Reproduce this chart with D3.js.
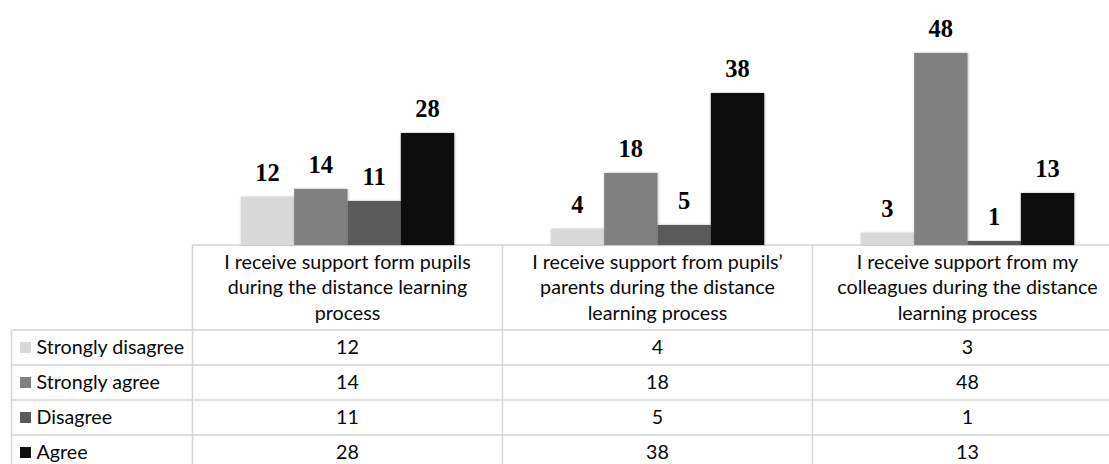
<!DOCTYPE html>
<html>
<head>
<meta charset="utf-8">
<script src="https://cdn.jsdelivr.net/npm/d3@7"></script>
<style>
  html, body { margin: 0; padding: 0; background: #fff; }
  svg { display: block; }
</style>
</head>
<body>
<svg id="chart" width="1109" height="464"></svg>
<script>
// ---- Data ----
const categories = [
  "I receive support form pupils during the distance learning process",
  "I receive support from pupils’ parents during the distance learning process",
  "I receive support from my colleagues during the distance learning process"
];
const categoryLines = [
  ["I receive support form pupils", "during the distance learning", "process"],
  ["I receive support from pupils’", "parents during the distance", "learning process"],
  ["I receive support from my", "colleagues during the distance", "learning process"]
];
const seriesNames = ["Strongly disagree", "Strongly agree", "Disagree", "Agree"];
const stronglyDisagree = [12, 4, 3];
const stronglyAgree = [14, 18, 48];
const disagree = [11, 5, 1];
const agree = [28, 38, 13];
const seriesColors = ["#d9d9d9", "#808080", "#5a5a5a", "#0f0f0f"];

const seriesValues = [stronglyDisagree, stronglyAgree, disagree, agree];

// ---- Layout ----
const W = 1109, H = 464;
const tableLeft = 11.5, catLeft = 192.5, catRight = 1122.5;
const baseY = 245, headerBottom = 330, rowH = 35;
const lineColor = "#d6d6d6";
const tableFont = "Lato, 'Open Sans', sans-serif";
const tableFontSize = 19.7;

const svg = d3.select("#chart");

const defs = svg.append("defs");
const f = defs.append("filter").attr("id", "shadow")
  .attr("x", "-20%").attr("y", "-20%").attr("width", "140%").attr("height", "140%");
f.append("feDropShadow").attr("dx", 0.5).attr("dy", 0).attr("stdDeviation", 1.3)
  .attr("flood-color", "#000").attr("flood-opacity", 0.3);

const x0 = d3.scaleBand().domain(categories).range([catLeft, catRight]).padding(0);
const x1 = d3.scaleBand().domain(seriesNames).range([0, x0.bandwidth()])
  .paddingInner(0).paddingOuter(0.906);
const y = d3.scaleLinear().domain([0, 60]).range([baseY, 5]);

// ---- Table grid ----
const grid = svg.append("g").attr("stroke", lineColor).attr("stroke-width", 1.5).attr("fill", "none");
grid.append("line").attr("x1", catLeft).attr("x2", W).attr("y1", baseY).attr("y2", baseY);
seriesNames.forEach((s, i) => {
  const yy = headerBottom + i * rowH;
  grid.append("line").attr("x1", tableLeft).attr("x2", W).attr("y1", yy).attr("y2", yy);
});
grid.append("line").attr("x1", tableLeft).attr("x2", tableLeft).attr("y1", headerBottom).attr("y2", H);
categories.forEach(c => {
  const xx = x0(c);
  grid.append("line").attr("x1", xx).attr("x2", xx).attr("y1", baseY).attr("y2", H);
});

// ---- Bars ----
const groups = svg.append("g").selectAll("g.cat")
  .data(categories).join("g").attr("class", "cat")
  .attr("transform", c => `translate(${x0(c)},0)`);

groups.each(function(c, ci) {
  const g = d3.select(this);
  const recs = seriesNames.map((s, si) => ({ s, si, v: seriesValues[si][ci] }));
  g.selectAll("rect").data(recs).join("rect")
    .attr("x", d => x1(d.s))
    .attr("width", x1.bandwidth())
    .attr("y", d => y(d.v))
    .attr("height", d => y(0) - y(d.v))
    .attr("fill", d => seriesColors[d.si])
    .attr("filter", "url(#shadow)");
  g.selectAll("text.lbl").data(recs).join("text").attr("class", "lbl")
    .attr("x", d => x1(d.s) + x1.bandwidth() / 2)
    .attr("y", d => y(d.v) - 16)
    .attr("text-anchor", "middle")
    .attr("font-family", "'Liberation Serif', 'Times New Roman', serif")
    .attr("font-weight", "bold")
    .attr("font-size", 24.5)
    .attr("fill", "#000")
    .text(d => d.v);
});

// ---- Header text ----
const hdr = svg.append("g").attr("font-family", tableFont).attr("font-size", tableFontSize).attr("fill", "#0a0a0a");
categories.forEach((c, ci) => {
  const cx = x0(c) + x0.bandwidth() / 2;
  const lines = categoryLines[ci];
  const lh = 25.5;
  const midY = (baseY + headerBottom) / 2;
  lines.forEach((ln, li) => {
    hdr.append("text")
      .attr("x", cx)
      .attr("y", midY + (li - (lines.length - 1) / 2) * lh)
      .attr("dy", "0.35em")
      .attr("text-anchor", "middle")
      .text(ln);
  });
});

// ---- Rows ----
const rows = svg.append("g").attr("font-family", tableFont).attr("font-size", tableFontSize).attr("fill", "#0a0a0a");
seriesNames.forEach((s, si) => {
  const cy = headerBottom + si * rowH + rowH / 2;
  rows.append("rect").attr("x", 20).attr("y", cy - 5.5).attr("width", 11).attr("height", 11)
    .attr("fill", seriesColors[si]);
  rows.append("text").attr("x", 36.5).attr("y", cy).attr("dy", "0.35em").text(s);
  categories.forEach((c, ci) => {
    rows.append("text")
      .attr("x", x0(c) + x0.bandwidth() / 2)
      .attr("y", cy).attr("dy", "0.35em")
      .attr("text-anchor", "middle")
      .text(seriesValues[si][ci]);
  });
});
</script>
</body>
</html>
